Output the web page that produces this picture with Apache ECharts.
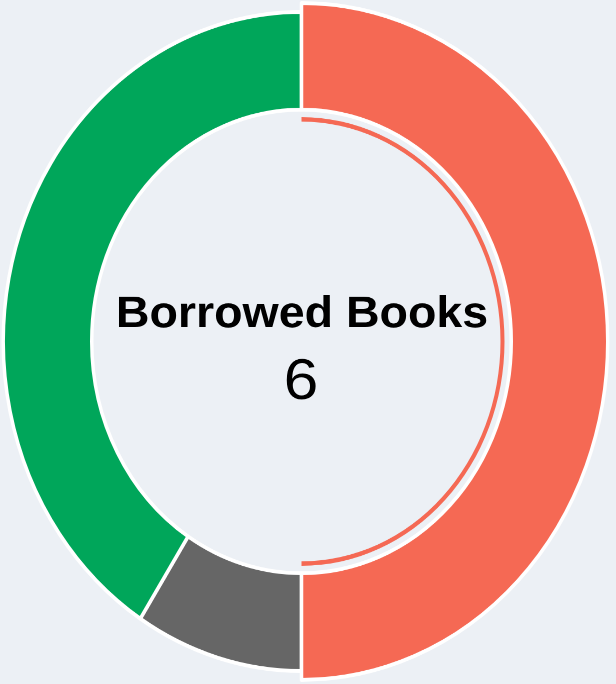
<!DOCTYPE html>
<html>
<head>
<meta charset="utf-8">
<script src="https://cdn.jsdelivr.net/npm/echarts@6/dist/echarts.min.js"></script>
<style>
  html, body { margin: 0; padding: 0; background: #ecf0f5; width: 616px; height: 684px; }
  #wrap { width: 616px; height: 684px; position: relative; }
  /* the doughnut is drawn on a slightly taller-than-wide panel */
  #chart { position: absolute; left: 0; top: 0; width: 616px; height: 619px;
           transform: scaleY(1.105); transform-origin: 0 0; }
</style>
</head>
<body>
<div id="wrap"><div id="chart"></div></div>
<script>
// Book status breakdown
const categories = ['Overdue', 'Lost', 'Returned'];
const bookCounts = [11, 2, 9];
const sliceColors = ['#f56954', '#666666', '#00a65a'];
const centerTitle = 'Borrowed Books';
const centerValue = 6;
const highlighted = 0; // slice drawn raised, with an inner accent ring

const chart = echarts.init(document.getElementById('chart'), null, { devicePixelRatio: 2 });

const center = [301.5, 309];
const borderW = 3.5;

// one data list per ring; slices that a ring should not show are left transparent
function ringData(showIndex, withBorder) {
  return categories.map((name, i) => {
    const visible = showIndex(i);
    return {
      name,
      value: bookCounts[i],
      itemStyle: visible
        ? { color: sliceColors[i], borderColor: '#ffffff', borderWidth: withBorder ? borderW : 0 }
        : { color: 'transparent', borderWidth: 0 }
    };
  });
}

const common = {
  type: 'pie',
  center,
  startAngle: 90,
  clockwise: true,
  silent: true,
  label: { show: false },
  labelLine: { show: false },
  emphasis: { disabled: true }
};

chart.setOption({
  backgroundColor: '#ecf0f5',
  animation: false,
  series: [
    Object.assign({}, common, {
      name: 'base',
      radius: [209.75, 298.25],
      data: ringData(i => i !== highlighted, true)
    }),
    Object.assign({}, common, {
      name: 'raised',
      radius: [209.75, 306.25],
      data: ringData(i => i === highlighted, true)
    }),
    Object.assign({}, common, {
      name: 'accent',
      radius: [199, 203],
      data: ringData(i => i === highlighted, false)
    })
  ],
  graphic: [
    {
      type: 'text',
      x: 302, y: 285,
      scaleX: 1.108, scaleY: 0.95,
      style: {
        text: centerTitle,
        fill: '#000000',
        font: 'bold 42px "Liberation Sans", Arial, sans-serif',
        align: 'center',
        verticalAlign: 'middle'
      }
    },
    {
      type: 'text',
      x: 301, y: 346.8,
      scaleX: 1.2, scaleY: 1.0,
      style: {
        text: String(centerValue),
        fill: '#000000',
        font: '52px "Liberation Sans", Arial, sans-serif',
        align: 'center',
        verticalAlign: 'middle'
      }
    }
  ]
});
</script>
</body>
</html>
